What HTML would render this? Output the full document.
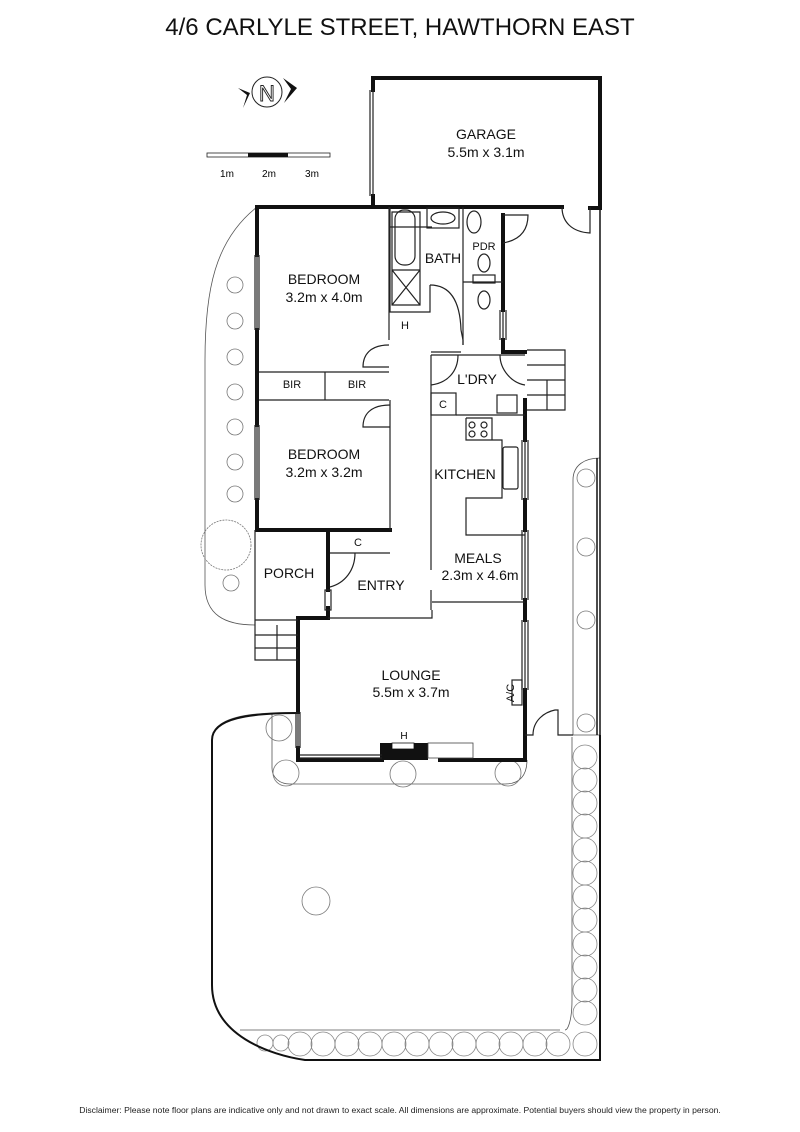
<!DOCTYPE html>
<html><head><style>
body{margin:0;background:#fff;}
svg{display:block;font-family:"Liberation Sans",Arial,sans-serif;}
</style></head><body>
<svg width="800" height="1132" viewBox="0 0 800 1132" xmlns="http://www.w3.org/2000/svg">
<rect width="800" height="1132" fill="#fff"/>
<text x="400" y="35" font-size="24" text-anchor="middle" fill="#111">4/6 CARLYLE STREET, HAWTHORN EAST</text>
<text x="400" y="1113" font-size="8.6" text-anchor="middle" fill="#222">Disclaimer: Please note floor plans are indicative only and not drawn to exact scale. All dimensions are approximate. Potential buyers should view the property in person.</text>

<!-- North -->
<circle cx="267" cy="92" r="15" fill="none" stroke="#222" stroke-width="1"/>
<text x="267" y="101" font-size="22" text-anchor="middle" fill="none" stroke="#222" stroke-width="0.9">N</text>
<polygon points="238,88 250,93 243,108 247,95" fill="#111"/>
<polygon points="283,78 297,88 284,103 291,89" fill="#111"/>
<!-- scale -->
<rect x="207" y="153" width="123" height="4" fill="#fff" stroke="#222" stroke-width="0.8"/>
<rect x="248" y="153" width="40" height="4" fill="#111"/>
<text x="227" y="177" font-size="10" text-anchor="middle">1m</text>
<text x="269" y="177" font-size="10" text-anchor="middle">2m</text>
<text x="312" y="177" font-size="10" text-anchor="middle">3m</text>

<g fill="none" stroke="#555" stroke-width="0.8">
<path d="M257,207 C215,240 205,290 205,360 L205,585 C205,615 225,625 255,625"/>
<g stroke="#777">
<circle cx="235" cy="285" r="8"/><circle cx="235" cy="321" r="8"/><circle cx="235" cy="357" r="8"/><circle cx="235" cy="392" r="8"/><circle cx="235" cy="427" r="8"/><circle cx="235" cy="462" r="8"/><circle cx="235" cy="494" r="8"/><circle cx="226" cy="545" r="25" stroke-dasharray="2,1"/><circle cx="231" cy="583" r="8"/>
</g>
<path d="M573,735 L573,480 C573,465 585,458 600,458"/>
<g stroke="#777"><circle cx="586" cy="478" r="9"/><circle cx="586" cy="547" r="9"/><circle cx="586" cy="620" r="9"/><circle cx="586" cy="723" r="9"/></g>
<path d="M280,713 L298,713 M280,713 C240,713 212,720 212,740 L212,985 C212,1035 270,1055 305,1060 L600,1060 L600,735 L572,735"/>
<path d="M565,1030 C568,1030 572,1020 572,1000 L572,737"/>
<path d="M240,1030 L560,1030"/>
<path d="M272,713 L272,768 C272,778 280,784 290,784 L505,784 C520,784 527,775 527,760"/>
<g stroke="#777">
<circle cx="279" cy="728" r="13"/><circle cx="286" cy="773" r="13"/><circle cx="403" cy="774" r="13"/><circle cx="508" cy="773" r="13"/>
<circle cx="316" cy="901" r="14"/>
</g>
</g>
<g fill="none" stroke="#888" stroke-width="0.8">
<circle cx="585" cy="757" r="12"/><circle cx="585" cy="780" r="12"/><circle cx="585" cy="803" r="12"/><circle cx="585" cy="826" r="12"/><circle cx="585" cy="850" r="12"/><circle cx="585" cy="873" r="12"/><circle cx="585" cy="897" r="12"/><circle cx="585" cy="920" r="12"/><circle cx="585" cy="944" r="12"/><circle cx="585" cy="967" r="12"/><circle cx="585" cy="990" r="12"/><circle cx="585" cy="1013" r="12"/><circle cx="585" cy="1044" r="12"/>
<circle cx="265" cy="1043" r="8"/><circle cx="281" cy="1043" r="8"/><circle cx="300" cy="1044" r="12"/><circle cx="323" cy="1044" r="12"/><circle cx="347" cy="1044" r="12"/><circle cx="370" cy="1044" r="12"/><circle cx="394" cy="1044" r="12"/><circle cx="417" cy="1044" r="12"/><circle cx="441" cy="1044" r="12"/><circle cx="464" cy="1044" r="12"/><circle cx="488" cy="1044" r="12"/><circle cx="511" cy="1044" r="12"/><circle cx="535" cy="1044" r="12"/><circle cx="558" cy="1044" r="12"/>
</g>
<path d="M212,740 L212,985 C212,1035 270,1055 305,1060 L600,1060 L600,735" fill="none" stroke="#111" stroke-width="2"/>
<path d="M212,740 C212,718 250,713 298,713" fill="none" stroke="#111" stroke-width="2"/>
<path d="M600,735 L600,208 M597,458 L597,735" fill="none" stroke="#111" stroke-width="1.5"/>

<g fill="none" stroke="#111" stroke-width="4" stroke-linecap="square">
<path d="M373,90 L373,78 L600,78 L600,208 L590,208"/>
<path d="M373,196 L373,207 L257,207 L257,255 M257,330 L257,425 M257,500 L257,530 L390,530"/>
<path d="M373,207 L562,207"/>
<path d="M503,215 L503,310 M503,340 L503,352 L525,352"/>
<path d="M525,400 L525,440 M525,500 L525,530 M525,600 L525,620 M525,690 L525,760 L440,760 M382,760 L298,760 L298,748 M298,712 L298,618 L328,618 L328,608"/>
<path d="M328,590 L328,532"/>
</g>
<rect x="380" y="743" width="48" height="17" fill="#111"/>
<rect x="392" y="743" width="22" height="6" fill="#fff" stroke="#111" stroke-width="0.8"/>
<text x="404" y="739" font-size="10" text-anchor="middle">H</text>
<rect x="428" y="743" width="45" height="15" fill="#fff" stroke="#444" stroke-width="0.8"/>

<g fill="none" stroke="#222" stroke-width="1.2">
<path d="M373,90 L373,196 M370,90 L370,196"/>
<path d="M257,255 L257,330 M255,255 L255,330 M259,255 L259,330"/>
<path d="M257,425 L257,500 M255,425 L255,500 M259,425 L259,500"/>
<path d="M389,207 L389,340 M390,400 L390,530 M259,372 L389,372 M259,400 L389,400 M325,372 L325,400"/>
<path d="M389,345 C370,345 363,355 363,367 L389,367"/>
<path d="M390,405 C370,405 363,415 363,427 L390,427"/>
<path d="M390,227 L432,227 M390,207 L390,312 L430,312 L430,285 M463,207 L463,345"/>
<path d="M392,212 L420,212 L420,270 L392,270 Z M392,270 L420,270 L420,305 L392,305 Z M392,270 L420,305 M420,270 L392,305"/>
<rect x="395" y="210" width="20" height="55" rx="9"/>
<rect x="427" y="208" width="32" height="20"/><ellipse cx="443" cy="218" rx="12" ry="6"/>
<ellipse cx="474" cy="222" rx="7" ry="11"/><ellipse cx="484" cy="263" rx="6" ry="9"/><ellipse cx="484" cy="300" rx="6" ry="9"/><rect x="473" y="275" width="22" height="8"/>
<path d="M463,282 L503,282"/>
<path d="M430,285 C450,285 460,300 461,330 M461,330 L463,340 L463,345"/>
<path d="M503,215 L528,215 C528,230 520,240 503,243"/>
<path d="M562,207 C562,222 572,232 590,233 L590,207"/>
<path d="M503,310 L503,340 M500,310 L500,340 M506,310 L506,340"/>
<path d="M431,355 L525,355 M431,352 L461,352 M431,355 L431,570 M431,590 L431,610 M432,602 L525,602"/>
<path d="M458,355 C458,372 447,383 431,385"/>
<path d="M525,385 C512,383 500,370 500,355"/>
<rect x="431" y="393" width="25" height="22"/><rect x="497" y="395" width="20" height="18"/>
<path d="M456,415 L525,415"/>
<path d="M527,350 L565,350 L565,410 L527,410 M527,365 L565,365 M527,380 L565,380 M527,395 L565,395 M547,380 L547,410"/>
<path d="M466,418 L492,418 L492,440 L502,440 L502,498 L466,498 L466,535 L525,535 M466,418 L466,440 L492,440"/>
<rect x="503" y="447" width="15" height="42" rx="2"/>
<circle cx="472" cy="425" r="3"/><circle cx="484" cy="425" r="3"/><circle cx="472" cy="434" r="3"/><circle cx="484" cy="434" r="3"/>
<path d="M525,440 L525,500 M522,440 L522,500 M528,440 L528,500"/>
<path d="M525,530 L525,600 M522,530 L522,600 M528,530 L528,600"/>
<path d="M525,620 L525,690 M522,620 L522,690 M528,620 L528,690"/>
<rect x="512" y="680" width="10" height="25"/>
<path d="M330,553 L390,553 M355,553 C355,570 345,583 330,587"/>
<rect x="325" y="590" width="6" height="20"/>
<path d="M328,618 L432,618 L432,610"/>
<path d="M255,530 L255,660 L298,660 M255,620 L298,620 M255,635 L298,635 M255,648 L298,648 M277,625 L277,660"/>
<path d="M298,712 L298,748 M296,712 L296,748 M300,712 L300,748 M300,755 L382,755 M300,758 L382,758"/>
<path d="M525,735 L533,735 C533,720 545,712 555,710 L558,710 L558,735 L573,735"/>
</g>

<g font-size="14" text-anchor="middle" fill="#111">
<text x="486" y="139">GARAGE</text><text x="486" y="157">5.5m x 3.1m</text>
<text x="324" y="284">BEDROOM</text><text x="324" y="302">3.2m x 4.0m</text>
<text x="443" y="263">BATH</text>
<text x="477" y="384">L'DRY</text>
<text x="465" y="479">KITCHEN</text>
<text x="324" y="459">BEDROOM</text><text x="324" y="477">3.2m x 3.2m</text>
<text x="478" y="563">MEALS</text><text x="480" y="580">2.3m x 4.6m</text>
<text x="289" y="578">PORCH</text>
<text x="381" y="590">ENTRY</text>
<text x="411" y="680">LOUNGE</text><text x="411" y="697">5.5m x 3.7m</text>
</g>
<g font-size="11" text-anchor="middle" fill="#111">
<text x="484" y="250">PDR</text>
<text x="292" y="388">BIR</text><text x="357" y="388">BIR</text>
<text x="405" y="329">H</text>
<text x="443" y="408">C</text>
<text x="358" y="546">C</text>
<text x="514" y="693" transform="rotate(-90 514 693)">A/C</text>
</g>
</svg>
</body></html>
